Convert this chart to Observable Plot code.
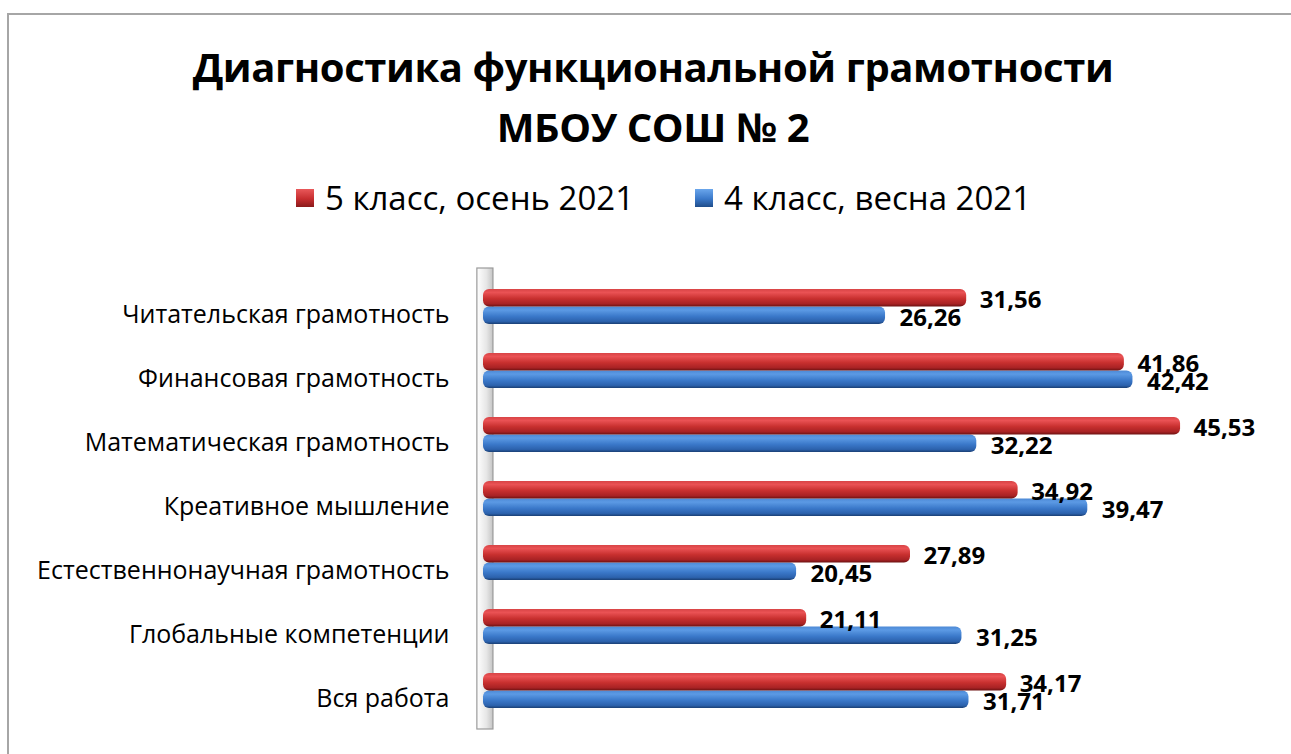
<!DOCTYPE html>
<html>
<head>
<meta charset="utf-8">
<script src="https://cdn.jsdelivr.net/npm/d3@7"></script>
<script src="https://cdn.jsdelivr.net/npm/@observablehq/plot@0.6"></script>
<style>
  body { margin: 0; background: #fff; font-family: "Open Sans", sans-serif; }
  #wrap { position: relative; width: 1291px; height: 754px; overflow: hidden; background: #fff; }
  #border { position: absolute; left: 7px; top: 13px; width: 1400px; height: 900px; border: 2px solid #a6a6a6; box-sizing: border-box; }
  #title { position: absolute; left: 0; width: 1306px; top: 37px; text-align: center; font-weight: 700; font-size: 40px; line-height: 60px; color: #000; letter-spacing: -0.4px; }
  #legend { position: absolute; top: 175px; left: 296px; font-size: 33px; color: #000; display: flex; align-items: center; white-space: nowrap; }
  .sw { display: inline-block; width: 18px; height: 18px; margin-right: 11px; box-sizing: border-box; }
  #chart { position: absolute; left: 0; top: 200px; }
</style>
</head>
<body>
<div id="wrap">
  <div id="border"></div>
  <div id="title"></div>
  <div id="legend"></div>
  <div id="chart"></div>
</div>
<script>
const titleLines = ["Диагностика функциональной грамотности", "МБОУ СОШ № 2"];
const categories = [
  "Читательская грамотность",
  "Финансовая грамотность",
  "Математическая грамотность",
  "Креативное мышление",
  "Естественнонаучная грамотность",
  "Глобальные компетенции",
  "Вся работа"
];
const seriesNames = ["5 класс, осень 2021", "4 класс, весна 2021"];
const autumn5 = [31.56, 41.86, 45.53, 34.92, 27.89, 21.11, 34.17];
const spring4 = [26.26, 42.42, 32.22, 39.47, 20.45, 31.25, 31.71];

const fmt = v => v.toFixed(2).replace(".", ",");

document.getElementById("title").innerHTML = titleLines.map(t => `<div>${t}</div>`).join("");
const legendColors = [
  "linear-gradient(#e9585a, #c62d2f 55%, #8a1a1a)",
  "linear-gradient(#6aa6ec, #3a78c9 55%, #1f4d8a)"
];
document.getElementById("legend").innerHTML = seriesNames.map((s, i) =>
  `<span class="sw" style="background:${legendColors[i]}"></span><span style="margin-right:${i === 0 ? 61 : 0}px">${s}</span>`
).join("");

const redData = categories.map((c, i) => ({category: c, value: autumn5[i]}));
const blueData = categories.map((c, i) => ({category: c, value: spring4[i]}));

const H = 554;
const marginTop = 60, marginBottom = 17;
const padding = 0.45;
const step = (H - marginTop - marginBottom) / (categories.length + padding);
const bw = step * (1 - padding);

const plot = Plot.plot({
  width: 1291,
  height: H,
  marginLeft: 483,
  marginRight: 42.5,
  marginTop,
  marginBottom,
  style: {fontFamily: "Open Sans, sans-serif", background: "transparent"},
  x: {domain: [0, 50], axis: null},
  y: {domain: categories, padding, label: null, axis: null},
  marks: [
    Plot.rect([0], {x1: -0.4, x2: 0.65, insetTop: 8, insetBottom: 8, fill: "url(#wallGrad)", stroke: "#9a9a9a", strokeWidth: 1.2}),
    Plot.barX(blueData, {y: "category", x: "value", insetTop: bw / 2, fill: "url(#blueGrad)", rx: 6}),
    Plot.barX(redData, {y: "category", x: "value", insetBottom: bw / 2, fill: "url(#redGrad)", rx: 6}),
    Plot.text(redData, {y: "category", x: "value", text: d => fmt(d.value), dx: 13, dy: -bw / 4 + 2, textAnchor: "start", fontWeight: 700, fontSize: 24, fill: "#000"}),
    Plot.text(blueData, {y: "category", x: "value", text: d => fmt(d.value), dx: 14, dy: bw / 4 + 3, textAnchor: "start", fontWeight: 700, fontSize: 24, fill: "#000"}),
    Plot.axisY({tickSize: 0, tickPadding: 34, fontSize: 25, dy: 8, fill: "#000"})
  ]
});

const ns = "http://www.w3.org/2000/svg";
const defs = document.createElementNS(ns, "defs");
defs.innerHTML = `
  <linearGradient id="redGrad" x1="0" y1="0" x2="0" y2="1">
    <stop offset="0" stop-color="#d84446"/>
    <stop offset="0.2" stop-color="#ea5254"/>
    <stop offset="0.55" stop-color="#c8302f"/>
    <stop offset="0.85" stop-color="#a82224"/>
    <stop offset="1" stop-color="#6e1212"/>
  </linearGradient>
  <linearGradient id="blueGrad" x1="0" y1="0" x2="0" y2="1">
    <stop offset="0" stop-color="#4d8ad6"/>
    <stop offset="0.2" stop-color="#5c9ae4"/>
    <stop offset="0.55" stop-color="#3b79ca"/>
    <stop offset="0.85" stop-color="#2c62ad"/>
    <stop offset="1" stop-color="#1a3f74"/>
  </linearGradient>
  <linearGradient id="wallGrad" x1="0" y1="0" x2="1" y2="0">
    <stop offset="0" stop-color="#ffffff"/>
    <stop offset="0.6" stop-color="#e6e6e6"/>
    <stop offset="1" stop-color="#c4c4c4"/>
  </linearGradient>`;
plot.insertBefore(defs, plot.firstChild);
document.getElementById("chart").appendChild(plot);
</script>
</body>
</html>
